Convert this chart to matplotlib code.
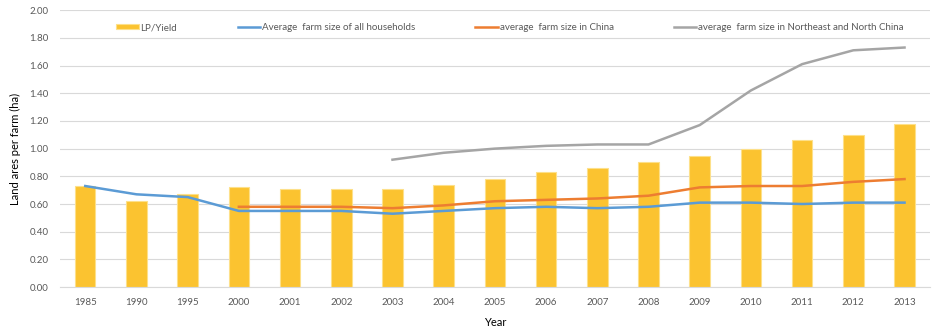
import numpy as np
import matplotlib
matplotlib.use("Agg")
import matplotlib.pyplot as plt

plt.rcParams['font.family'] = ['Lato', 'DejaVu Sans']

years = ['1985', '1990', '1995', '2000', '2001', '2002', '2003', '2004', '2005',
         '2006', '2007', '2008', '2009', '2010', '2011', '2012', '2013']
lp_yield = [0.73, 0.62, 0.67, 0.72, 0.71, 0.71, 0.71, 0.74, 0.78,
            0.83, 0.86, 0.90, 0.95, 1.00, 1.06, 1.10, 1.18]
avg_all = [0.73, 0.67, 0.65, 0.55, 0.55, 0.55, 0.53, 0.55, 0.57,
           0.58, 0.57, 0.58, 0.61, 0.61, 0.60, 0.61, 0.61]
avg_china = [None, None, None, 0.58, 0.58, 0.58, 0.57, 0.59, 0.62,
             0.63, 0.64, 0.66, 0.72, 0.73, 0.73, 0.76, 0.78]
avg_north = [None, None, None, None, None, None, 0.92, 0.97, 1.00,
             1.02, 1.03, 1.03, 1.17, 1.42, 1.61, 1.71, 1.73]

x = np.arange(len(years))
to_arr = lambda v: np.array([np.nan if a is None else a for a in v], dtype=float)

fig = plt.figure(figsize=(9.32, 3.27), dpi=100)
ax = fig.add_axes([0.064, 0.122, 0.934, 0.847])

b = ax.bar(x, lp_yield, width=0.4, color='#FBC330', edgecolor='#FDE08A', linewidth=0.8,
           label='LP/Yield', zorder=2)
l1, = ax.plot(x, to_arr(avg_all), color='#5B9BD5', lw=1.8,
              label='Average  farm size of all households', zorder=3)
l2, = ax.plot(x, to_arr(avg_china), color='#ED7D31', lw=1.8,
              label='average  farm size in China', zorder=3)
l3, = ax.plot(x, to_arr(avg_north), color='#A5A5A5', lw=1.8,
              label='average  farm size in Northeast and North China', zorder=3)

ax.set_xlim(-0.5, len(years) - 0.5)
ax.set_ylim(0, 2.0)
ax.set_yticks(np.arange(0, 2.01, 0.2))
ax.set_yticklabels(['%.2f' % v for v in np.arange(0, 2.01, 0.2)])
ax.set_xticks(x)
ax.set_xticklabels(years)
ax.tick_params(axis='both', length=0, labelsize=7, colors='#595959', pad=8)
ax.grid(axis='y', color='#D9D9D9', lw=0.8, zorder=0)
ax.set_axisbelow(True)
for s in ['top', 'left', 'right']:
    ax.spines[s].set_visible(False)
ax.spines['bottom'].set_color('#D9D9D9')

ax.set_ylabel('Land ares per farm (ha)', fontsize=8, color='black', labelpad=6)
ax.set_xlabel('Year', fontsize=8, color='black', labelpad=7)

leg = ax.legend([b, l1, l2, l3], [h.get_label() for h in [b, l1, l2, l3]],
                loc='upper left', bbox_to_anchor=(0.055, 0.985), ncol=4, frameon=False,
                fontsize=7, labelcolor='#595959', handlelength=2.3, handleheight=0.5,
                handletextpad=0.2, columnspacing=6.2)

fig.savefig('out.png', dpi=100)
